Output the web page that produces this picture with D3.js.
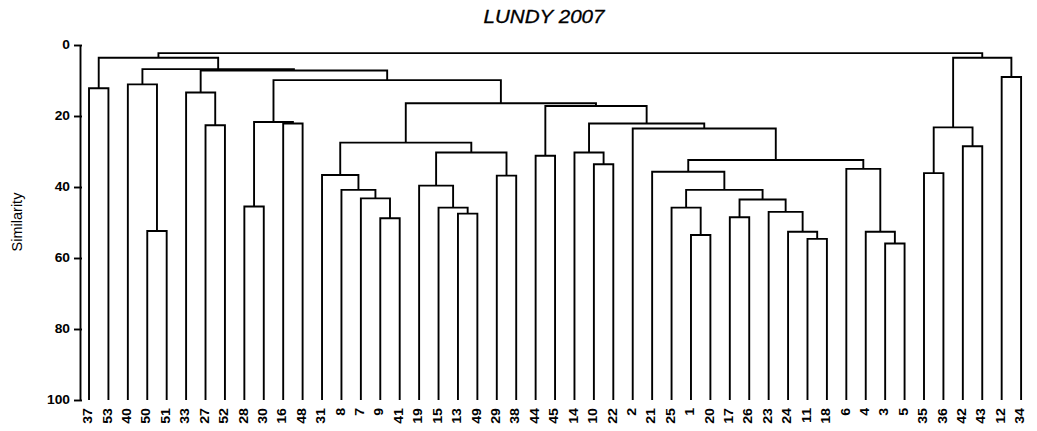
<!DOCTYPE html>
<html>
<head>
<meta charset="utf-8">
<script src="https://cdn.jsdelivr.net/npm/d3@7"></script>
<style>
  body { margin: 0; background: #fff; }
  svg { display: block; }
</style>
</head>
<body>
<div id="svgDiv"></div>
<script>
// leaf order along the bottom
var leaves = ["37","53","40","50","51","33","27","52","28","30","16","48","31","8","7","9","41",
              "19","15","13","49","29","38","44","45","14","10","22","2","21","25","1","20","17",
              "26","23","24","11","18","6","4","3","5","35","36","42","43","12","34"];

// merges: [a, b, similarity]; strings are leaves, numbers point to an earlier merge
var merges = [
  ["37","53",12.2], ["50","51",52.4], ["40",1,11.1], ["27","52",22.6], ["33",3,13.4],
  ["28","30",45.5], ["16","48",22.1], [5,6,21.7], ["9","41",48.8], ["7",8,43.2],
  ["8",9,40.8], ["31",10,36.6], ["13","49",47.5], ["15",12,45.8], ["19",13,39.6],
  ["29","38",36.8], [14,15,30.3], [11,16,27.5], ["44","45",31.2], ["10","22",33.6],
  ["14",19,30.3], ["1","20",53.5], ["25",21,45.8], ["17","26",48.5], ["11","18",54.6],
  ["24",24,52.6], ["23",25,47.0], [23,26,43.5], [22,27,40.8], ["21",28,35.7],
  ["3","5",55.9], ["4",30,52.6], ["6",31,34.9], [29,32,32.4], ["2",33,23.5],
  [20,34,22.1], [18,35,17.2], [17,36,16.4], [7,37,9.9], [4,38,7.2],
  [2,39,6.8], [0,40,3.6], ["35","36",36.1], ["42","43",28.5], [42,43,23.2],
  ["12","34",9.0], [44,45,3.6], [41,46,2.3]
];

var yTicks = [0, 20, 40, 60, 80, 100];
var title = "LUNDY 2007",
    yTitle = "Similarity";

var width = 1037, height = 431;

var svg = d3.select("#svgDiv").append("svg")
    .attr("width", width)
    .attr("height", height);

var x = d3.scaleBand().domain(leaves).range([79.3, 1030.8]).padding(0),
    y = d3.scaleLinear().domain([0, 100]).range([45, 400]);

// build the tree from the merge list
function toNode(ref){
  if (typeof ref === "string") return {name: ref, h: 100};
  var m = merges[ref];
  return {h: m[2], children: [toNode(m[0]), toNode(m[1])]};
}
var root = d3.hierarchy(toNode(merges.length - 1));

root.eachAfter(function(d){
  if (!d.children) d.x = x(d.data.name) + x.bandwidth()/2;
  else d.x = d3.mean(d.children, function(c){ return c.x; });
});

var internal = root.descendants().filter(function(d){ return d.children; });

svg.append("g")
   .selectAll("path")
   .data(internal)
   .join("path")
   .attr("fill", "none")
   .attr("stroke", "#000")
   .attr("stroke-width", 1.9)
   .attr("d", function(d){
     var a = d.children[0], b = d.children[1];
     return "M" + a.x + "," + y(a.data.h) + "V" + y(d.data.h) +
            "H" + b.x + "V" + y(b.data.h);
   });

// y axis
var axis = svg.append("g")
   .attr("transform", "translate(80,0)")
   .call(d3.axisLeft(y).tickValues(yTicks).tickSize(6).tickSizeOuter(0).tickPadding(4));
axis.select(".domain").attr("stroke-width", 1.9);
axis.selectAll(".tick line").attr("stroke-width", 1.9).attr("x2", -6).attr("x1", 2);
axis.selectAll(".tick text")
    .attr("font-family", "Liberation Sans, Arial, sans-serif")
    .attr("font-weight", "bold")
    .attr("font-size", 12)
    .attr("fill", "#000")
    .attr("transform", "translate(-10,0) scale(1.15,1) translate(10,0)");

// leaf labels, a bit wide like the original
svg.append("g")
   .selectAll("text")
   .data(leaves)
   .join("text")
   .attr("transform", function(d){ return "translate(" + (x(d) + x.bandwidth()/2 - 1) + ",408) rotate(-90) scale(1.18,1)"; })
   .attr("text-anchor", "end")
   .attr("dy", "0.35em")
   .attr("font-family", "Liberation Sans, Arial, sans-serif")
   .attr("font-weight", "bold")
   .attr("font-size", 12)
   .text(function(d){ return d; });

svg.append("text")
   .attr("x", 544)
   .attr("y", 23)
   .attr("text-anchor", "middle")
   .attr("font-family", "Liberation Sans, Arial, sans-serif")
   .attr("font-style", "italic")
   .attr("font-size", 18)
   .attr("stroke", "#000")
   .attr("stroke-width", 0.3)
   .attr("textLength", 121)
   .attr("lengthAdjust", "spacingAndGlyphs")
   .text(title);

svg.append("text")
   .attr("transform", "translate(22,222) rotate(-90)")
   .attr("text-anchor", "middle")
   .attr("font-family", "Liberation Sans, Arial, sans-serif")
   .attr("font-size", 14.5)
   .text(yTitle);
</script>
</body>
</html>
